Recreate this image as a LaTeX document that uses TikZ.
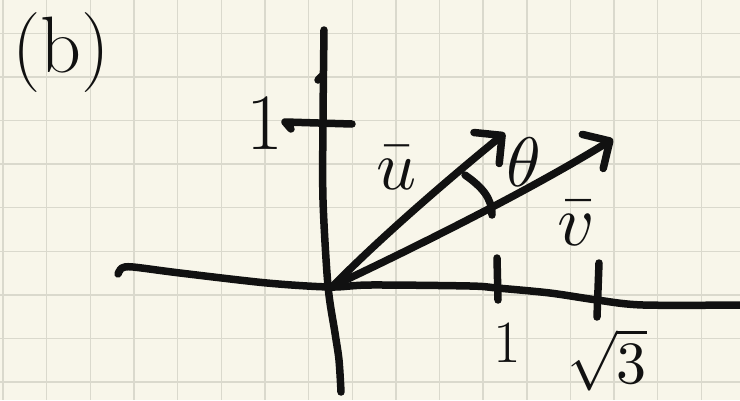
\documentclass[tikz,border=0pt]{standalone}
\usepackage{unicode-math}
\usetikzlibrary{arrows.meta}
\definecolor{paper}{HTML}{F8F6EA}
\definecolor{gridc}{HTML}{DAD9CD}
\definecolor{ink}{HTML}{111111}
\newcommand\myfs[1]{\fontsize{#1}{#1}\selectfont}
\tikzset{
  pen/.style={draw=ink, line width=7.5pt, line cap=round, line join=round},
  vec/.style={pen, -{Straight Barb[length=20pt,width=40pt,round]}},
  lbl/.style={text=ink, inner sep=0pt},
  gridline/.style={draw=gridc, line width=1.4pt},
}
\begin{document}
\begin{tikzpicture}[x=1pt,y=-1pt]
\fill[paper] (0,0) rectangle (740,400);
\useasboundingbox (0,0) rectangle (740,400);
\foreach \k in {0,...,16} \draw[gridline] ({3+43.65*\k},0) -- ({3+43.65*\k},400);
\foreach \k in {1,...,9} \draw[gridline] (0,{-10.3+43.6*\k}) -- (740,{-10.3+43.6*\k});

% origin and tips
\coordinate (O) at (333,286);
\coordinate (utip) at (505,133);
\coordinate (vtip) at (613,139);
\coordinate (arcA) at (465,175);
\coordinate (arcB) at (492,215);

% y axis
\draw[pen] plot[smooth] coordinates {(324,30) (323,120) (323,200) (328,286) (335,333) (339,360) (341,392)};
% small mark on y axis
\draw[pen] (318,80) -- (322,76);
% y tick
\draw[pen] (291,129) -- (285,122) -- (352,124);

% x axis
\draw[pen] plot[smooth] coordinates {(118,274) (122,268) (133,267) (180,273) (267,283) (330,287) (370,285) (470,286) (497,288) (550,293) (597,300) (643,305) (745,305)};
% x ticks
\draw[pen] (497,258) -- (498,300);
\draw[pen] (599,263) -- (597,317);

% vectors
\draw[vec] (O) .. controls (375,243) and (440,186) .. (utip);
\draw[vec] (O) .. controls (420,245) and (530,190) .. (vtip);

% angle arc
\draw[pen] (arcA) .. controls (482,187) and (492,198) .. (arcB);

% labels
\node[lbl] (lb) at (61,53) {\myfs{80}(b)};
\node[lbl] (ly1) at (265,123) {\myfs{80}1};
\node[lbl] (lx1) at (507,343) {\myfs{60}1};
\node[lbl] (lx3) at (607,360) {\myfs{60}$\sqrt{3}$};
\node[lbl] (lu) at (396,167) {\myfs{70}$\bar{u}$};
\node[lbl] (lv) at (575,223) {\myfs{72}$\bar{v}$};
\node[lbl] (lt) at (523,162) {\myfs{70}$\theta$};
\end{tikzpicture}
\end{document}
